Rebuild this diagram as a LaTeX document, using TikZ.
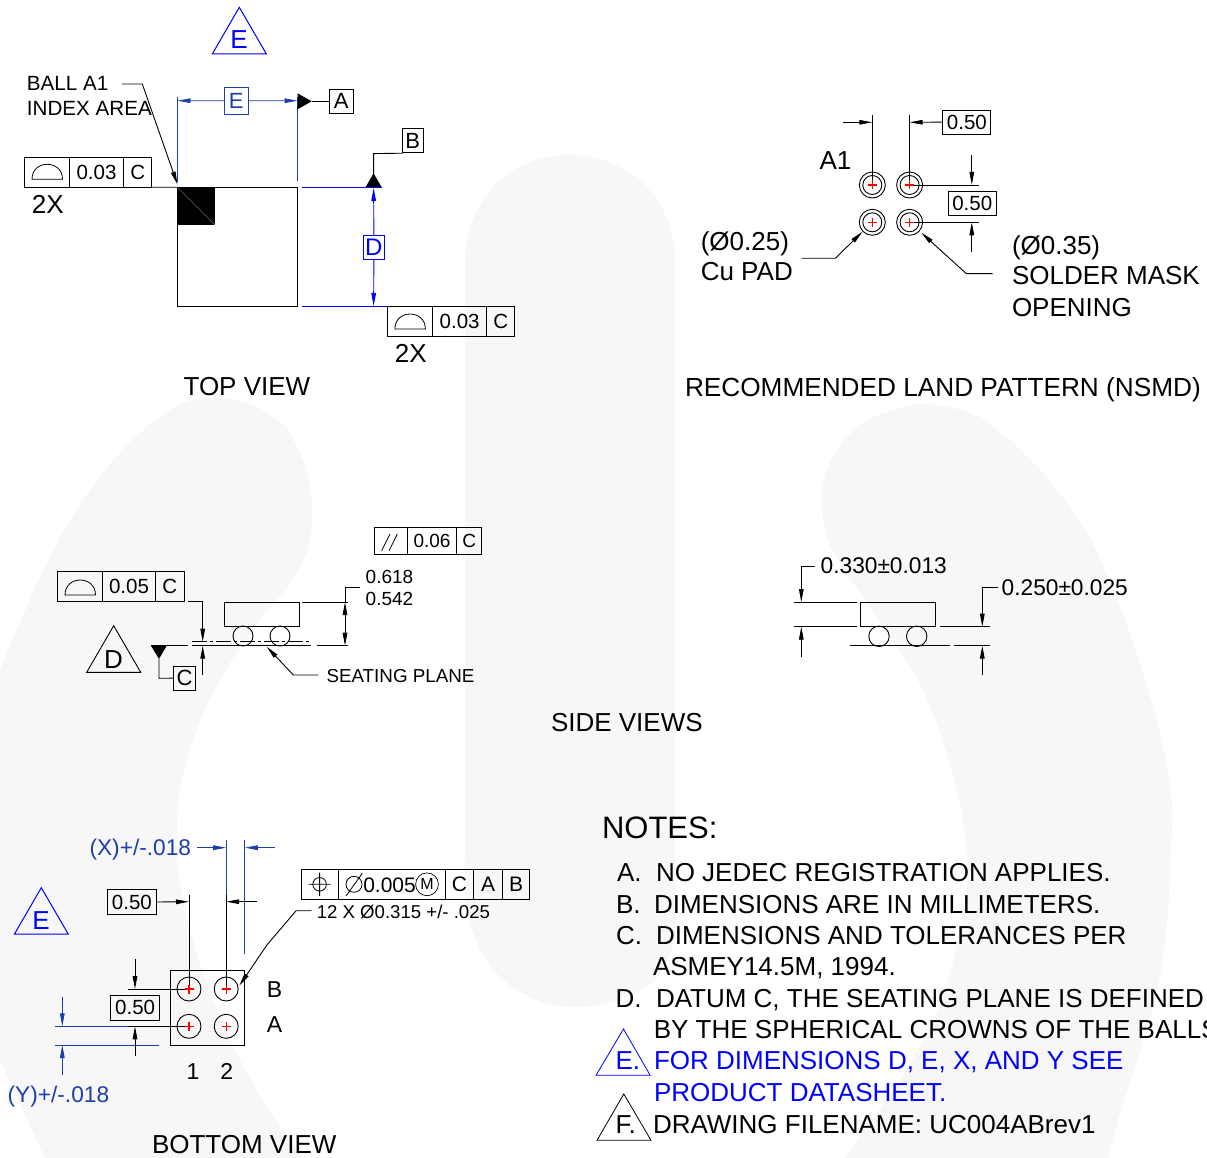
\documentclass[tikz,border=0pt]{standalone}
\usepackage{fontspec}
\setmainfont{Liberation Sans}
\usetikzlibrary{arrows.meta,calc}
\definecolor{wm}{HTML}{F7F7F7}
\definecolor{pblue}{HTML}{0000FF}
\definecolor{dblue}{HTML}{1C3FAA}
\definecolor{pred}{HTML}{FF0000}
\newcommand\fsz[1]{\fontsize{#1}{#1}\selectfont}
% label: name, x, baseline y, size, colour, text
\newcommand\lab[6]{\node[lbl,text=#5] (#1) at (#2,#3) {\fsz{#4}#6};}
% centred glyph label
\newcommand\clab[6]{\node[lbl,anchor=base,text=#5] (#1) at (#2,#3) {\fsz{#4}#6};}
% box cell: name, x0,y0,x1,y1,size,colour,text
\newcommand\cell[8]{%
  \pgfmathsetmacro\cw{#4-#2}\pgfmathsetmacro\ch{#5-#3}%
  \pgfmathsetmacro\cx{(#2+#4)/2}\pgfmathsetmacro\cy{(#3+#5)/2}%
  \node[cellbox,draw=#7,text=#7,minimum width=\cw pt,minimum height=\ch pt] (#1) at (\cx,\cy) {\fsz{#6}#8};}
\tikzset{
  x=1pt,y=-1pt,
  lbl/.style={anchor=base west,inner sep=0pt,outer sep=0pt},
  cellbox/.style={rectangle,inner sep=0pt,outer sep=0pt,line width=0.9pt},
  ln/.style={line width=0.9pt,draw=black},
  dim/.style={line width=0.9pt,-{Triangle[length=13pt,width=4.6pt]}},
  halfround/.pic={\draw[line width=0.8pt] (0,0) -- (30.5,0) .. controls (30.5,-20) and (0,-20) .. (0,0) -- cycle;},
  ballpad/.pic={\draw[line width=0.9pt] (0,0) circle[radius=13pt] (0,0) circle[radius=9.5pt];
    \draw[pred,line width=1.1pt] (-4.5,0) -- (4.5,0) (0,-4.5) -- (0,4.5);},
  bga/.pic={\draw[line width=0.9pt] (0,0) circle[radius=12pt];
    \draw[pred,line width=1.1pt] (-4.5,0) -- (4.5,0) (0,-4.5) -- (0,4.5);},
}
\begin{document}
\begin{tikzpicture}
\useasboundingbox (0,0) rectangle (1207,1158);
\clip (0,0) rectangle (1207,1158);
\fill[white] (0,0) rectangle (1207,1158);
% ---- background watermark
\fill[wm] plot[smooth,tension=0.7] coordinates {(0,670)(50,557)(100,477)(160,417)(210,398)(267,413)(300,453)(312,513)(300,567)(260,620)(220,680)(190,750)(177,830)(190,930)(240,1060)(303,1158)} -- (45,1158) -- (0,1060) -- cycle;
\fill[wm] plot[smooth,tension=0.7] coordinates {(844,1158)(929,1030)(963,913)(966,847)(954,780)(923,690)(875,615)(838,560)(824,525)(824,480)(840,447)(863,423)(895,410)(933,405)(993,427)(1070,507)(1113,590)(1148,690)(1169,780)(1171,847)(1159,980)(1120,1113)(1108,1158)} -- cycle;
\fill[wm] plot[smooth,tension=0.7] coordinates {(465,860)(469,920)(503.6,980)(572,1007)(645,987)(672,947)(675,900)} -- (675,260) .. controls (675,200) and (628,155) .. (570,155) .. controls (512,155) and (465,200) .. (465,260) -- cycle;

% ======== TOP VIEW
\draw[pblue,line width=1pt] (239.3,7.3) -- (266.4,54) -- (212.3,54) -- cycle;
\clab{triEtop}{239}{49}{26}{pblue}{E}
\lab{ballA}{27}{90.5}{20.6}{black}{BALL A1}
\lab{indexA}{27}{115.5}{20.6}{black}{INDEX AREA}
\draw[line width=0.9pt,draw=black] (177.5,187.3) rectangle (297.5,306);
\fill[black] (177.5,187.3) rectangle (215,225);
\draw[gray,line width=0.4pt] (177.5,187.3) -- (215,225);
\coordinate (ballTip) at (177.5,184.5);
\draw[dim] (122,84) -- (142.3,84) -- (ballTip);
% E dimension
\draw[dblue,line width=0.9pt] (177.5,97.3) -- (177.5,181.7) (297.5,97.3) -- (297.5,180.7);
\cell{dimE}{224}{87.3}{248.5}{114.3}{22}{dblue}{E}
\draw[dim,dblue] (dimE.west) -- (177.5,100.7);
\draw[dim,dblue] (dimE.east) -- (297.5,100.7);
% datum A
\cell{datA}{329.6}{89.3}{353}{113.3}{22}{black}{A}
\fill[black] (297.5,93.3) -- (311.7,101.3) -- (297.5,109.3) -- cycle;
\draw[ln] (311.7,101.3) -- (datA.west);
% datum B
\cell{datB}{402.6}{128.7}{423}{152.7}{22}{black}{B}
\draw[ln] (402.6,153.2) -- (373.6,153.6) -- (373.6,174);
\fill[black] (373.6,173.3) -- (381.7,187.3) -- (365.5,187.3) -- cycle;
% blue extension lines
\draw[pblue,line width=0.9pt] (301.5,187.3) -- (381.7,187.3) (301.5,306) -- (387.8,306);
% D dimension
\cell{dimD}{363.4}{235}{384.4}{259.3}{24}{pblue}{D}
\draw[dim,pblue] (dimD.north) -- (373.6,188);
\draw[dim,pblue] (dimD.south) -- (373.6,306);
% FCF left
\cell{fa1}{24.7}{157}{69.3}{187.3}{20.5}{black}{}
\cell{fa2}{69.3}{157}{123.7}{187.3}{20.5}{black}{0.03}
\cell{fa3}{123.7}{157}{151.8}{187.3}{20.5}{black}{C}
\pic at (32,179.3) {halfround};
\draw[line width=0.8pt] (fa3.south east) -- (177.5,187.3);
\lab{twoXa}{31.8}{213.2}{26}{black}{2X}
% FCF right
\cell{fb1}{387.8}{306.3}{432.7}{336.3}{20.5}{black}{}
\cell{fb2}{432.7}{306.3}{486.5}{336.3}{20.5}{black}{0.03}
\cell{fb3}{486.5}{306.3}{514.9}{336.3}{20.5}{black}{C}
\pic at (394.9,329) {halfround};
\lab{twoXb}{394.9}{362.5}{26}{black}{2X}
\lab{topview}{183.6}{395}{26}{black}{TOP VIEW}

% ======== LAND PATTERN
\draw[ln] (872.3,115) -- (872.3,185) (909.6,115) -- (909.6,185);
\draw[ln] (909.6,185) -- (979,185) (909.6,222.3) -- (979,222.3);
\pic at (872.3,185) {ballpad};
\pic at (909.6,185) {ballpad};
\pic at (872.3,222.3) {ballpad};
\pic at (909.6,222.3) {ballpad};
\coordinate (lpA) at (843,122.3);
\draw[dim] (lpA) -- (872.3,122.3);
\cell{lp50a}{942.9}{110}{990.9}{134.3}{20.5}{black}{0.50}
\draw[dim] (lp50a.west) -- (909.6,122.3);
\cell{lp50b}{948.2}{191.3}{996.3}{215.3}{20.5}{black}{0.50}
\draw[dim] (971.8,155) -- (971.8,185);
\draw[dim] (971.8,252.3) -- (971.8,222.3);
\lab{a1}{819.5}{169.3}{26}{black}{A1}
\lab{d25}{700.8}{250.7}{26}{black}{(Ø0.25)}
\lab{cupad}{700.8}{281}{26}{black}{Cu PAD}
\draw[dim] (801.7,258.3) -- (835.3,258.3) -- (862.5,231.7);
\lab{d35}{1012}{254.3}{26}{black}{(Ø0.35)}
\lab{solder}{1012}{285}{26}{black}{SOLDER MASK}
\lab{opening}{1012}{316.7}{26}{black}{OPENING}
\draw[dim] (992.6,273.7) -- (966.4,273.7) -- (921.3,232.7);
\lab{landtitle}{685}{396}{26.2}{black}{RECOMMENDED LAND PATTERN (NSMD)}

% ======== SIDE VIEW LEFT
\cell{fc1}{374.3}{527.3}{407.3}{554}{19}{black}{}
\cell{fc2}{407.3}{527.3}{456.7}{554}{19}{black}{0.06}
\cell{fc3}{456.7}{527.3}{481.7}{554}{19}{black}{C}
\draw[line width=0.8pt] (381.7,550.7) -- (390,534) (389,550.7) -- (397.3,534);
\lab{h618}{365.7}{583}{19}{black}{0.618}
\lab{h542}{365.7}{605.3}{19}{black}{0.542}
\cell{fd1}{57}{571.7}{102.3}{601.7}{20.5}{black}{}
\cell{fd2}{102.3}{571.7}{155.7}{601.7}{20.5}{black}{0.05}
\cell{fd3}{155.7}{571.7}{184}{601.7}{20.5}{black}{C}
\pic at (65,595) {halfround};
\draw[ln] (224,602) rectangle (299,626.7);
\draw[ln] (243,636) circle[radius=10pt] (280,636) circle[radius=10pt];
\draw[ln] (151,645.7) -- (187.7,645.7) (192.3,645.7) -- (310.7,645.7) (316.7,645.7) -- (348.3,645.7);
\draw[line width=0.7pt,dash pattern=on 15pt off 3pt on 3pt off 3pt] (192.3,641.7) -- (310.7,641.7);
\fill[black] (151,645.7) -- (166.7,645.7) -- (159,659) -- cycle;
\cell{datC}{173.3}{666}{195.7}{690.3}{22}{black}{C}
\draw[ln] (159,659) -- (159,678.3) -- (datC.west);
\draw[ln] (113.7,625.7) -- (140.7,672.3) -- (86.7,672.3) -- cycle;
\clab{triD}{113.5}{668}{26}{black}{D}
\draw[dim] (188.3,601.7) -- (202.7,601.7) -- (202.7,641.7);
\draw[dim] (202.7,675) -- (202.7,645.7);
\draw[ln] (302.3,602) -- (348.3,602);
\draw[line width=0.9pt,{Triangle[length=13pt,width=4.6pt]}-{Triangle[length=13pt,width=4.6pt]}] (345,602) -- (345,645.7);
\draw[ln] (345,602) -- (345,587.3) -- (360,587.3);
\lab{seat}{326.5}{682.8}{18.8}{black}{SEATING PLANE}
\draw[dim] (318.3,675) -- (293.3,675) -- (266.7,646.7);

% ======== SIDE VIEW RIGHT
\draw[ln] (860.3,602) rectangle (935.3,626.7);
\draw[ln] (879,636.3) circle[radius=10.2pt] (916.7,636.3) circle[radius=10.2pt];
\draw[ln] (794.3,602) -- (857,602) (794.3,626.7) -- (857,626.7) (939.7,626.7) -- (990,626.7);
\draw[ln] (850.3,645.7) -- (950.3,645.7) (954.3,645.7) -- (990,645.7);
\lab{t330}{820.7}{573.8}{22.7}{black}{0.330±0.013}
\lab{t250}{1001.7}{595.5}{22.7}{black}{0.250±0.025}
\draw[dim] (815,566) -- (801.3,566) -- (801.3,602);
\draw[dim] (801.3,656.7) -- (801.3,626.7);
\draw[dim] (998.3,587) -- (982.3,587) -- (982.3,626.7);
\draw[dim] (982.3,675) -- (982.3,645.7);
\lab{sideviews}{551}{731.5}{26}{black}{SIDE VIEWS}

% ======== BOTTOM VIEW
\lab{xtol}{89.5}{855}{22.7}{dblue}{(X)+/-.018}
\draw[dim,dblue] (197,847.7) -- (226.2,847.7);
\draw[dim,dblue] (274.8,847.7) -- (244.8,847.7);
\draw[dblue,line width=0.9pt] (226.2,840) -- (226.2,895) (244.8,840) -- (244.8,954);
\draw[ln] (170.8,970.3) rectangle (244.8,1045.3);
\draw[ln] (226.2,895) -- (226.2,989) (189,895) -- (189,989);
\cell{bb50a}{107.8}{889.7}{156}{914.3}{20.5}{black}{0.50}
\draw[dim] (bb50a.east) -- (189,901.7);
\draw[dim] (256.5,901.7) -- (226.2,901.7);
\draw[ln] (128,989) -- (189,989) (128,1026.3) -- (189,1026.3);
\pic at (189,989) {bga};
\pic at (226.2,989) {bga};
\pic at (189,1026.3) {bga};
\pic at (226.2,1026.3) {bga};
\draw[dblue,line width=0.9pt] (55,1026.3) -- (128,1026.3) (55,1045) -- (159,1045);
\cell{bb50b}{110.9}{995.3}{159.4}{1020}{20.5}{black}{0.50}
\draw[dim] (135,959.3) -- (135,989);
\draw[dim] (135,1056) -- (135,1026.3);
\draw[dim,dblue] (62.3,996.7) -- (62.3,1026.3);
\draw[dim,dblue] (62.3,1075) -- (62.3,1045);
\lab{ytol}{7.6}{1102}{22.7}{dblue}{(Y)+/-.018}
\draw[pblue,line width=1pt] (41.3,887.7) -- (68.2,934) -- (14.5,934) -- cycle;
\clab{triEbot}{41}{929}{26}{pblue}{E}
% position frame
\cell{fe1}{301.3}{869.7}{338.5}{899.3}{21}{black}{}
\cell{fe2}{338.5}{869.7}{445.2}{899.3}{21}{black}{}
\cell{fe3}{445.2}{869.7}{473.5}{899.3}{21}{black}{C}
\cell{fe4}{473.5}{869.7}{502.8}{899.3}{21}{black}{A}
\cell{fe5}{502.8}{869.7}{529.3}{899.3}{21}{black}{B}
\draw[line width=0.8pt] (319.6,884.3) circle[radius=6.8pt] (308.6,884.3) -- (330.6,884.3) (319.6,872.6) -- (319.6,896);
\draw[line width=0.8pt] (354,884.3) circle[radius=8pt] (346,896) -- (362.3,873.3);
\lab{pos005}{363.3}{892}{21}{black}{0.005}
\node[circle,draw,line width=0.7pt,minimum size=22.8pt,inner sep=0pt,font=\fsz{16}] (mmc) at (427,884.3) {M};
\lab{n12}{316.8}{918.3}{18.6}{black}{12 X Ø0.315 +/- .025}
\draw[dim] (311.6,910.7) -- (296.1,910.7) -- (266.9,945) -- (239.3,985.7);
\lab{rowB}{266.9}{997.3}{23}{black}{B}
\lab{rowA}{266.9}{1032}{23}{black}{A}
\lab{col1}{186.5}{1079.5}{23}{black}{1}
\lab{col2}{220.4}{1079.5}{23}{black}{2}
\lab{bottomview}{152}{1153.8}{26}{black}{BOTTOM VIEW}

% ======== NOTES
\lab{notes}{602}{838}{31}{black}{NOTES:}
\lab{nA}{617}{881}{26}{black}{A.}
\lab{nAt}{656}{881}{26}{black}{NO JEDEC REGISTRATION APPLIES.}
\lab{nB}{616}{913}{26}{black}{B.}
\lab{nBt}{654}{913}{26}{black}{DIMENSIONS ARE IN MILLIMETERS.}
\lab{nC}{616}{944}{26}{black}{C.}
\lab{nCt}{656}{944}{26}{black}{DIMENSIONS AND TOLERANCES PER}
\lab{nCu}{653}{975}{26}{black}{ASMEY14.5M, 1994.}
\lab{nD}{615.6}{1007}{26}{black}{D.}
\lab{nDt}{656}{1007}{26}{black}{DATUM C, THE SEATING PLANE IS DEFINED}
\lab{nDu}{653.8}{1038}{26}{black}{BY THE SPHERICAL CROWNS OF THE BALLS}
\draw[pblue,line width=0.8pt] (623.5,1029) -- (650.2,1075.3) -- (596,1075.3) -- cycle;
\lab{nE}{615.6}{1069.5}{26}{pblue}{E.}
\lab{nEt}{654}{1069.5}{26}{pblue}{FOR DIMENSIONS D, E, X, AND Y SEE}
\lab{nEu}{654}{1101}{26}{pblue}{PRODUCT DATASHEET.}
\draw[line width=0.8pt] (623.8,1094) -- (651,1140.3) -- (597,1140.3) -- cycle;
\lab{nF}{615.6}{1133}{26}{black}{F.}
\lab{nFt}{653}{1133}{26}{black}{DRAWING FILENAME: UC004ABrev1}
\end{tikzpicture}
\end{document}
